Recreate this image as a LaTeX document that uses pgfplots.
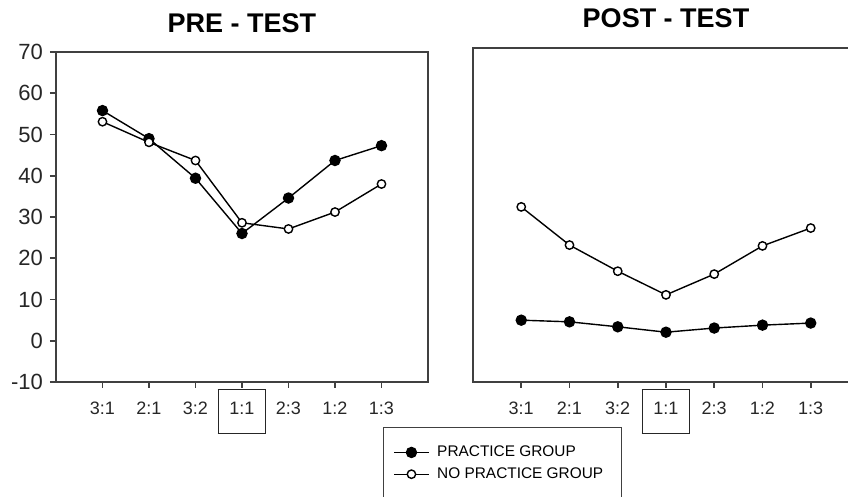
\documentclass[border=0pt]{standalone}
\usepackage{pgfplots}
\pgfplotsset{compat=1.18}
\usepackage{fontspec}
\setmainfont{Liberation Sans}

% boxed tick label for the 1:1 ratio
\newcommand{\bx}[1]{{\setlength{\fboxsep}{1.5pt}\setlength{\fboxrule}{0.7pt}\fbox{\makebox[20pt]{\rule[-7.5pt]{0pt}{18.5pt}#1}}}}

\pgfplotsset{
  panel/.style={
    scale only axis,
    anchor=south west,
    xmin=-1, xmax=7,
    xtick={0,...,6},
    xticklabels={3:1,2:1,3:2,{\bx{1:1}},2:3,1:2,1:3},
    axis line style={black!75, line width=0.9pt},
    tick style={black!75, line width=0.8pt},
    tick align=outside,
    major tick length=3pt,
    xtick pos=bottom,
    ytick pos=left,
    /pgf/number format/assume math mode=true,
    xticklabel style={font=\fontsize{9}{10}\selectfont, text=black!85, anchor=base, yshift=-13.5pt},
    yticklabel style={font=\fontsize{11}{12}\selectfont, text=black!85},
    title style={font=\bfseries\fontsize{13.5}{15}\selectfont, at={(0.5,1)}, anchor=base, yshift=4pt},
    clip=false,
  },
  prac/.style={black, line width=0.7pt, mark=*, mark size=2.5pt, mark options={fill=black}},
  nopr/.style={black, line width=0.7pt, mark=*, mark size=2.1pt, mark options={fill=white, line width=0.7pt}},
}

\begin{document}
\begin{tikzpicture}

\begin{axis}[panel,
    at={(28pt,57.5pt)},
    width=186pt, height=165pt,
    ymin=-10, ymax=70,
    ytick={-10,0,...,70},
    title={PRE - TEST},
    legend style={at={(0.879,-0.136)}, anchor=north west,
      font=\fontsize{7.7}{8.5}\selectfont, draw=black!75, line width=0.7pt,
      inner xsep=5pt, inner ysep=7pt, row sep=0pt,
      nodes={inner xsep=4pt}},
    legend cell align=left,
  ]
  \addplot[prac] coordinates {
    (0,55.8) (1,49) (2,39.4) (3,26) (4,34.6) (5,43.7) (6,47.3)
  };
  \addlegendentry{PRACTICE GROUP}
  \addplot[nopr] coordinates {
    (0,53.1) (1,48.1) (2,43.7) (3,28.6) (4,27.1) (5,31.2) (6,38)
  };
  \addlegendentry{NO PRACTICE GROUP}
\end{axis}

\begin{axis}[panel,
    at={(236.5pt,57.5pt)},
    width=193pt, height=167pt,
    ymin=-10, ymax=70.5,
    ytick=\empty,
    title={POST - TEST},
  ]
  \addplot[prac] coordinates {
    (0,4.9) (1,4.5) (2,3.3) (3,2) (4,3) (5,3.7) (6,4.2)
  };
  \addplot[nopr] coordinates {
    (0,32.2) (1,23) (2,16.7) (3,11) (4,16) (5,22.8) (6,27.1)
  };
\end{axis}

\pgfresetboundingbox
\path (0pt,0pt) rectangle (424pt,248.5pt);
\end{tikzpicture}
\end{document}
